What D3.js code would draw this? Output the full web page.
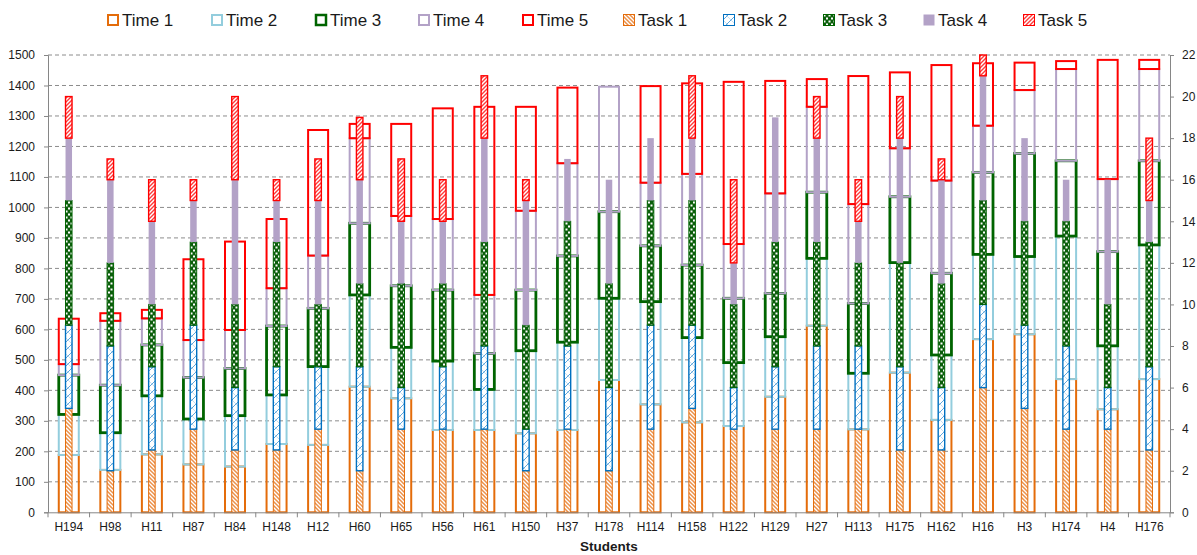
<!DOCTYPE html>
<html>
<head>
<meta charset="utf-8">
<script src="https://cdn.jsdelivr.net/npm/d3@7/dist/d3.min.js"></script>
<style>
  html, body { margin: 0; padding: 0; background: #fff; }
  svg { display: block; font-family: "Liberation Sans", Arial, sans-serif; }
</style>
</head>
<body>
<svg id="chart" width="1197" height="555"></svg>
<script>
// ---------------- DATA ----------------
const students = ["H194","H98","H11","H87","H84","H148","H12","H60","H65","H56","H61","H150","H37","H178","H114","H158","H122","H129","H27","H113","H175","H162","H16","H3","H174","H4","H176"];

const time1 = [188,139,190,157,150,224,221,412,374,270,270,259,270,434,354,295,283,379,612,272,458,303,568,584,437,338,437];
const time2 = [133,122,192,149,167,161,257,301,167,226,133,271,288,268,337,278,208,197,221,184,361,213,278,255,469,208,440];
const time3 = [129,156,167,136,155,226,191,235,202,233,118,199,283,284,183,238,211,142,217,229,216,268,269,338,247,309,276];
const time4 = [36,211,87,123,126,124,173,279,229,233,192,260,304,410,207,299,178,328,280,326,159,304,153,208,301,238,301];
const time5 = [149,25,28,265,290,227,412,47,302,363,617,341,248,0,317,297,532,369,91,420,249,379,205,90,26,391,30];

const task1 = [5,2,3,4,3,3,4,2,4,4,4,2,4,2,4,5,4,4,4,4,3,3,6,5,4,4,3];
const task2 = [4,6,4,5,3,4,3,5,2,3,4,2,4,4,5,4,2,3,4,4,4,3,4,4,4,2,4];
const task3 = [6,4,3,4,4,6,3,4,5,4,5,5,6,5,6,6,4,6,5,4,5,5,5,5,6,4,6];
const task4 = [3,4,4,2,6,2,5,5,3,3,5,6,3,5,3,3,2,6,5,2,6,5,6,4,2,6,2];
const task5 = [2,1,2,1,4,1,2,3,3,2,3,1,0,0,0,3,4,0,2,2,2,1,1,0,0,0,3];

const leftTicks = d3.range(0, 1501, 100);
const rightTicks = d3.range(0, 23, 2);

const timeKeys = ["Time 1","Time 2","Time 3","Time 4","Time 5"];
const taskKeys = ["Task 1","Task 2","Task 3","Task 4","Task 5"];
const timeSeries = [time1,time2,time3,time4,time5];
const taskSeries = [task1,task2,task3,task4,task5];

// ---------------- STYLE ----------------
const timeColors = ["#e46c0a","#93cddd","#006400","#b3a2c7","#ff0000"];
const timeStrokeW = [2,2,2.8,2,2];
const taskFill = ["url(#pTask1)","url(#pTask2)","url(#pTask3)","#b3a2c7","url(#pTask5)"];
const taskStroke = ["#e46c0a","#0070c0","#006400","none","#ff0000"];
const taskStrokeW = [1,1.4,1,0,1.4];

const svg = d3.select("#chart");
const defs = svg.append("defs");

// Task 1 pattern: orange "\" stripes
let p = defs.append("pattern").attr("id","pTask1").attr("patternUnits","userSpaceOnUse").attr("width",4).attr("height",4);
p.append("rect").attr("width",4).attr("height",4).attr("fill","#fff");
p.append("path").attr("d","M-1,-1L5,5M-1,3L1,5M3,-1L5,1").attr("stroke","#ec914a").attr("stroke-width",1.5);
// Task 2 pattern: light-blue diagonal hatch with faint cross
p = defs.append("pattern").attr("id","pTask2").attr("patternUnits","userSpaceOnUse").attr("width",8).attr("height",8);
p.append("rect").attr("width",8).attr("height",8).attr("fill","#fff");
p.append("path").attr("d","M0,8L8,0M-1,1L1,-1M7,9L9,7").attr("stroke","#5ea6dc").attr("stroke-width",1);
p.append("path").attr("d","M0,0L8,8").attr("stroke","#b5d5ee").attr("stroke-width",0.8);
// Task 3 pattern: dark green with white squares
p = defs.append("pattern").attr("id","pTask3").attr("patternUnits","userSpaceOnUse").attr("width",5).attr("height",6);
p.append("rect").attr("width",5).attr("height",6).attr("fill","#0b5e0b");
p.append("rect").attr("x",0.5).attr("y",0.5).attr("width",2).attr("height",2).attr("fill","#fff");
p.append("rect").attr("x",3).attr("y",3.5).attr("width",2).attr("height",2).attr("fill","#fff");
// Task 5 pattern: red "/" stripes
p = defs.append("pattern").attr("id","pTask5").attr("patternUnits","userSpaceOnUse").attr("width",4).attr("height",4);
p.append("rect").attr("width",4).attr("height",4).attr("fill","#fff");
p.append("path").attr("d","M-1,5L5,-1M-1,1L1,-1M3,5L5,3").attr("stroke","#ff3b3b").attr("stroke-width",1.4);

// ---------------- SCALES ----------------
const plotL = 48, plotR = 1170, plotT = 55, plotB = 512.3;
const x = d3.scaleBand().domain(students).range([plotL, plotR]).padding(0);
const y = d3.scaleLinear().domain([0,1500]).range([plotB, plotT]);
const y2 = d3.scaleLinear().domain([0,22]).range([plotB, plotT]);

// tables
const timeRows = students.map((s,i) => { const r = {student:s}; timeKeys.forEach((k,j)=> r[k]=timeSeries[j][i]); return r; });
const taskRows = students.map((s,i) => { const r = {student:s}; taskKeys.forEach((k,j)=> r[k]=taskSeries[j][i]); return r; });
const timeStack = d3.stack().keys(timeKeys)(timeRows);
const taskStack = d3.stack().keys(taskKeys)(taskRows);

// ---------------- GRID ----------------
svg.append("g").selectAll("line").data(leftTicks.filter(d=>d>0)).join("line")
  .attr("x1", plotL).attr("x2", plotR)
  .attr("y1", d=>y(d)).attr("y2", d=>y(d))
  .attr("stroke","#8c8c8c").attr("stroke-width",1).attr("stroke-dasharray","4,3");

// ---------------- TIME BOXES ----------------
const tw = 20;
timeStack.forEach((layer, j) => {
  svg.append("g").selectAll("rect").data(layer.filter(d => d[1]-d[0] > 0)).join("rect")
    .attr("x", d => x(d.data.student) + x.bandwidth()/2 - tw/2)
    .attr("width", tw)
    .attr("y", d => y(d[1]))
    .attr("height", d => y(d[0]) - y(d[1]))
    .attr("fill","none")
    .attr("stroke", timeColors[j])
    .attr("stroke-width", timeStrokeW[j]);
});

// ---------------- TASK BARS ----------------
const kw = 6.5;
taskStack.forEach((layer, j) => {
  svg.append("g").selectAll("rect").data(layer.filter(d => d[1]-d[0] > 0)).join("rect")
    .attr("x", d => x(d.data.student) + x.bandwidth()/2 - kw/2)
    .attr("width", kw)
    .attr("y", d => y2(d[1]))
    .attr("height", d => y2(d[0]) - y2(d[1]))
    .attr("fill", taskFill[j])
    .attr("stroke", taskStroke[j])
    .attr("stroke-width", taskStrokeW[j]);
});

// ---------------- AXES ----------------
const axisColor = "#868686";
const gL = svg.append("g").attr("transform",`translate(${plotL},0)`)
  .call(d3.axisLeft(y).tickValues(leftTicks).tickSize(4).tickPadding(9).tickFormat(d3.format("d")));
const gR = svg.append("g").attr("transform",`translate(${plotR},0)`)
  .call(d3.axisRight(y2).tickValues(rightTicks).tickSize(4).tickPadding(8).tickFormat(d3.format("d")));
const xAxis = d3.axisBottom(x).tickSize(0).tickPadding(10);
const gX = svg.append("g").attr("transform",`translate(0,${plotB})`).call(xAxis);
// boundary ticks on x axis
gX.append("g").selectAll("line").data(students.concat(["__end"])).join("line")
  .attr("x1", (d,i) => plotL + i*x.step()).attr("x2", (d,i) => plotL + i*x.step())
  .attr("y1", 0).attr("y2", 5).attr("stroke", axisColor);

[gL,gR,gX].forEach(g => {
  g.select(".domain").attr("stroke", axisColor).attr("stroke-width",1);
  g.selectAll(".tick line").attr("stroke", axisColor);
  g.selectAll("text").attr("fill","#1a1a1a").style("font-size","12px").style("font-family","'Liberation Sans', Arial, sans-serif");
});

svg.append("text").attr("x", (plotL+plotR)/2).attr("y", 551)
  .attr("text-anchor","middle").attr("font-weight","bold").attr("font-size","13.5px").attr("fill","#1a1a1a")
  .text("Students");

// ---------------- LEGEND ----------------
const legendX = [107,211,315,418,522,623,723,823,923,1023];
const legendKeys = timeKeys.concat(taskKeys);
const lg = svg.append("g");
legendKeys.forEach((k,i) => {
  const g = lg.append("g").attr("transform",`translate(${legendX[i]},20)`);
  if (i < 5) {
    g.append("rect").attr("x",1).attr("y",-5).attr("width",10).attr("height",10)
      .attr("fill","#fff").attr("stroke",timeColors[i]).attr("stroke-width", i===2 ? 2.5 : 2);
  } else {
    const j = i-5;
    g.append("rect").attr("x",0.5).attr("y",-5.5).attr("width",11).attr("height",11)
      .attr("fill",taskFill[j]).attr("stroke",taskStroke[j]).attr("stroke-width",1);
  }
  g.append("text").attr("x",15).attr("y",0).attr("dy","0.36em")
    .attr("font-size","17px").attr("fill","#1a1a1a").text(k);
});
</script>
</body>
</html>
